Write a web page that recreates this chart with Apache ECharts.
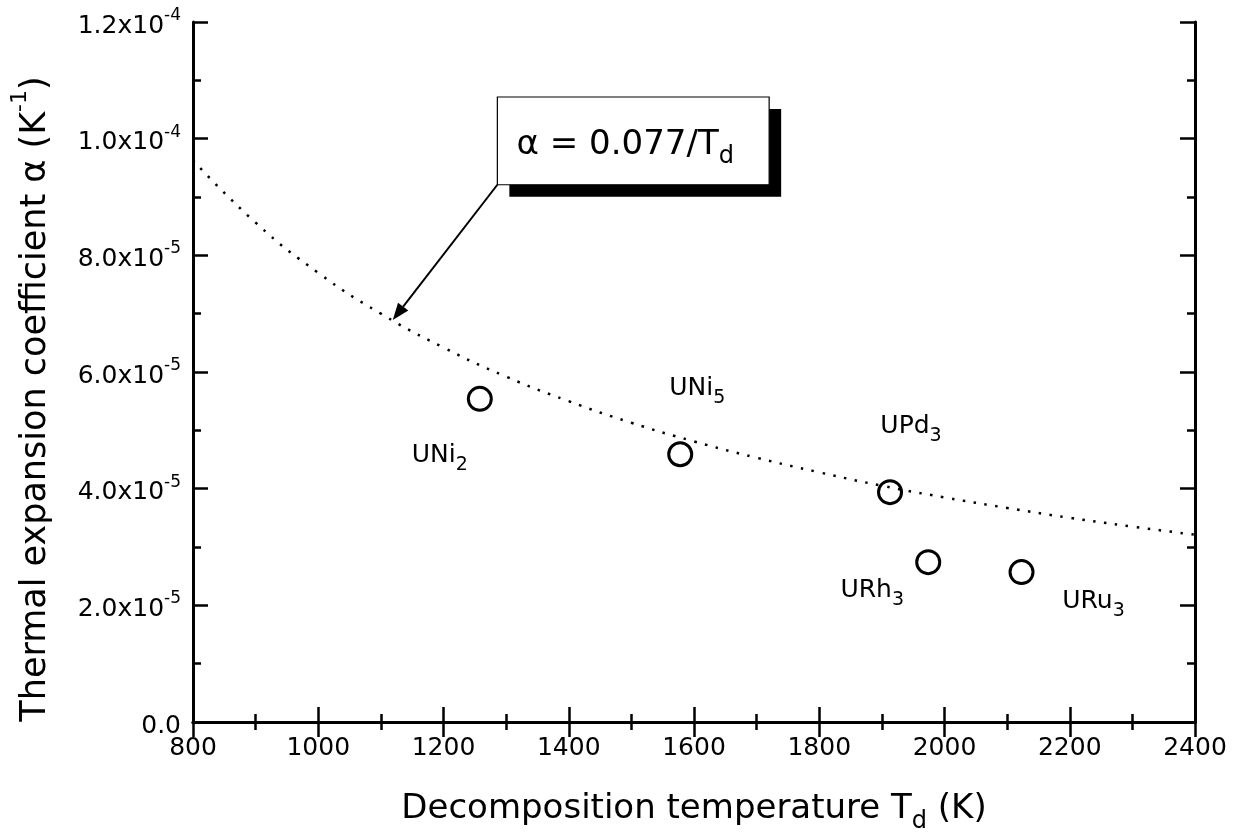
<!DOCTYPE html>
<html>
<head>
<meta charset="utf-8">
<script src="https://cdn.jsdelivr.net/npm/echarts@6/dist/echarts.min.js"></script>
<style>
html,body{margin:0;padding:0;background:#fff;}
#chart{width:1236px;height:840px;}
</style>
</head>
<body>
<div id="chart"></div>
<script>
// ---- data ----
var compounds = ['UNi2', 'UNi5', 'UPd3', 'URh3', 'URu3'];
var compoundBase = ['UNi', 'UNi', 'UPd', 'URh', 'URu'];
var compoundSub = ['2', '5', '3', '3', '3'];
var decompT = [1258, 1578, 1913, 1974, 2123];           // K
var alphaVals = [5.54e-5, 4.59e-5, 3.94e-5, 2.74e-5, 2.57e-5]; // 1/K

// dotted fit curve alpha = 0.077/Td
var curveT = [800, 900, 1000, 1100, 1200, 1300, 1400, 1500, 1600, 1700, 1800, 1900, 2000, 2100, 2200, 2300, 2400];
var curveAlpha = [9.63e-5, 8.56e-5, 7.70e-5, 7.00e-5, 6.42e-5, 5.92e-5, 5.50e-5, 5.13e-5, 4.81e-5, 4.53e-5, 4.28e-5, 4.05e-5, 3.85e-5, 3.67e-5, 3.50e-5, 3.35e-5, 3.21e-5];

var xTicks = [800, 1000, 1200, 1400, 1600, 1800, 2000, 2200, 2400];
var yTickLabels = ['0.0', '2.0x10^-5', '4.0x10^-5', '6.0x10^-5', '8.0x10^-5', '1.0x10^-4', '1.2x10^-4'];

// ---- styling (not data) ----
var labelOffsets = [[-40, 57], [17, -66], [21, -66], [-56, 28], [72, 29]];
var FONT = 'DejaVu Sans';

var chart = echarts.init(document.getElementById('chart'));

var scatterData = decompT.map(function (t, i) {
  return {
    name: compounds[i],
    value: [t, alphaVals[i]],
    label: {
      offset: labelOffsets[i],
      formatter: '{a|' + compoundBase[i] + '}{s|' + compoundSub[i] + '}'
    }
  };
});
var curveData = curveT.map(function (t, i) { return [t, curveAlpha[i]]; });

function yLabel(v) {
  var idx = Math.round(v / 2e-5);
  var s = yTickLabels[idx];
  if (s === undefined) return '';
  if (s.indexOf('^') < 0) return '{m|' + s + '}';
  var p = s.split('^');
  return '{m|' + p[0] + '}{e|' + p[1] + '}';
}

var axisLine = { show: true, lineStyle: { color: '#000', width: 3 } };
var axisTick = { show: true, inside: true, length: 15, lineStyle: { color: '#000', width: 2.5 } };
var minorTick = { show: true, splitNumber: 2, length: 8, lineStyle: { color: '#000', width: 2.5 } };

var option = {
  backgroundColor: '#fff',
  animation: false,
  grid: { left: 193, right: 41, top: 22, bottom: 118, containLabel: false },
  xAxis: [{
    type: 'value', min: 800, max: 2400, interval: 200,
    position: 'bottom',
    axisLine: axisLine, axisTick: axisTick, minorTick: minorTick,
    splitLine: { show: false },
    axisLabel: {
      margin: 14, color: '#000', fontFamily: FONT, fontSize: 25,
      formatter: function (v) { return xTicks.indexOf(v) >= 0 ? String(v) : ''; }
    },
    name: '{a|Decomposition temperature T}{s|d}{a| (K)}',
    nameLocation: 'middle', nameGap: 62,
    nameTextStyle: {
      rich: {
        a: { fontFamily: FONT, fontSize: 34, color: '#000', lineHeight: 50, verticalAlign: 'middle' },
        s: { fontFamily: FONT, fontSize: 24, color: '#000', lineHeight: 24, verticalAlign: 'bottom' }
      }
    }
  }, {
    type: 'value', min: 800, max: 2400, interval: 200,
    position: 'top',
    axisLine: axisLine, axisTick: axisTick, minorTick: minorTick,
    splitLine: { show: false }, axisLabel: { show: false }
  }],
  yAxis: [{
    type: 'value', min: 0, max: 1.2e-4, interval: 2e-5,
    position: 'left',
    axisLine: axisLine, axisTick: axisTick, minorTick: minorTick,
    splitLine: { show: false },
    axisLabel: {
      margin: 12, color: '#000', formatter: yLabel,
      rich: {
        m: { fontFamily: FONT, fontSize: 25, color: '#000', lineHeight: 30, verticalAlign: 'middle', padding: [8, 0, 0, 0] },
        e: { fontFamily: FONT, fontSize: 17, color: '#000', lineHeight: 17, verticalAlign: 'top' }
      }
    },
    name: '{a|Thermal expansion coefficient α (K}{e|-1}{a|)}',
    nameLocation: 'middle', nameGap: 140, nameRotate: 90,
    nameTextStyle: {
      padding: [0, 54, 0, 0],
      rich: {
        a: { fontFamily: FONT, fontSize: 35, color: '#000', lineHeight: 44, verticalAlign: 'bottom' },
        e: { fontFamily: FONT, fontSize: 22, color: '#000', lineHeight: 22, verticalAlign: 'top' }
      }
    }
  }, {
    type: 'value', min: 0, max: 1.2e-4, interval: 2e-5,
    position: 'right',
    axisLine: axisLine, axisTick: axisTick, minorTick: minorTick,
    splitLine: { show: false }, axisLabel: { show: false }
  }],
  series: [{
    type: 'line',
    name: 'fit',
    data: curveData,
    smooth: true,
    showSymbol: false,
    symbol: 'none',
    lineStyle: { color: '#000', width: 2.5, type: [2.5, 8.5] },
    z: 2
  }, {
    type: 'scatter',
    name: 'compounds',
    data: scatterData,
    symbol: 'circle',
    symbolSize: 23,
    itemStyle: { color: 'rgba(0,0,0,0)', borderColor: '#000', borderWidth: 3, opacity: 1 },
    label: {
      show: true, position: 'inside', color: '#000',
      rich: {
        a: { fontFamily: FONT, fontSize: 25, color: '#000', lineHeight: 38, verticalAlign: 'middle' },
        s: { fontFamily: FONT, fontSize: 19, color: '#000', lineHeight: 19, verticalAlign: 'bottom' }
      }
    },
    z: 3
  }]
};
chart.setOption(option);

// annotation box + arrow anchored in data space
var boxTL = chart.convertToPixel({ gridIndex: 0 }, [1286, 1.0714e-4]);
var boxBR = chart.convertToPixel({ gridIndex: 0 }, [1720, 9.21e-5]);
var arrowTip = chart.convertToPixel({ gridIndex: 0 }, [1119, 6.89e-5]);
var bw = boxBR[0] - boxTL[0], bh = boxBR[1] - boxTL[1];
var sx = boxTL[0], sy = boxBR[1];
var dx = arrowTip[0] - sx, dy = arrowTip[1] - sy;
var len = Math.sqrt(dx * dx + dy * dy);
var ux = dx / len, uy = dy / len;
var headL = 17, headW = 6.5;
var bx = arrowTip[0] - ux * headL, by = arrowTip[1] - uy * headL;

chart.setOption({
  graphic: [
    { type: 'rect', shape: { x: boxTL[0] + 12, y: boxTL[1] + 12, width: bw, height: bh },
      style: { fill: '#000' }, z: 10 },
    { type: 'rect', shape: { x: boxTL[0], y: boxTL[1], width: bw, height: bh },
      style: { fill: '#fff', stroke: '#000', lineWidth: 1.2 }, z: 11 },
    { type: 'text', x: boxTL[0] + bw / 2 - 8, y: boxTL[1] + bh / 2 + 4, z: 12,
      style: {
        text: '{a|α = 0.077/T}{s|d}', align: 'center', verticalAlign: 'middle',
        rich: {
          a: { fontFamily: FONT, fontSize: 34, fill: '#000', lineHeight: 48, verticalAlign: 'middle' },
          s: { fontFamily: FONT, fontSize: 24, fill: '#000', lineHeight: 24, verticalAlign: 'bottom' }
        }
      } },
    { type: 'line', shape: { x1: sx, y1: sy, x2: bx, y2: by },
      style: { stroke: '#000', lineWidth: 2 }, z: 12 },
    { type: 'polygon', shape: { points: [
        [arrowTip[0], arrowTip[1]],
        [bx - uy * headW, by + ux * headW],
        [bx + uy * headW, by - ux * headW]
      ] }, style: { fill: '#000' }, z: 12 }
  ]
});
</script>
</body>
</html>
